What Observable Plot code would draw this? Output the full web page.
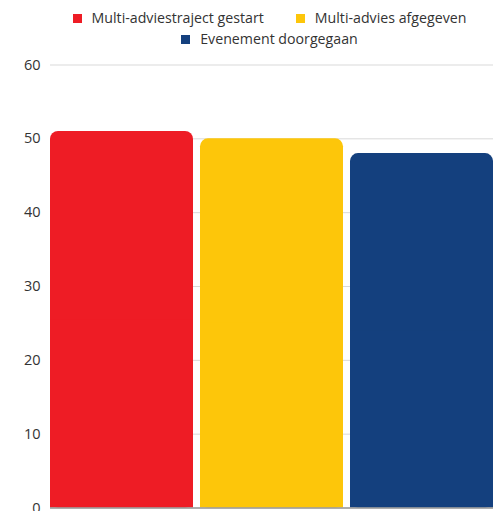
<!DOCTYPE html>
<html><head><meta charset="utf-8">
<script src="https://cdn.jsdelivr.net/npm/d3@7"></script>
<script src="https://cdn.jsdelivr.net/npm/@observablehq/plot@0.6"></script>
<style>
html,body{margin:0;padding:0;background:#fff;overflow:hidden;}
body{width:493px;font-family:"Open Sans",sans-serif;}
#legend{box-sizing:border-box;height:50px;padding:7px 0 0 46px;text-align:center;font-size:14.2px;color:#333;line-height:21px;}
.row{white-space:nowrap;}
.item{display:inline-block;margin:0 16px;}
.sw{display:inline-block;width:9px;height:9px;margin-right:10px;vertical-align:0px;}
</style></head>
<body>
<div id="legend"></div>
<div id="chart"></div>
<script>
const categories = ["Multi-adviestraject gestart", "Multi-advies afgegeven", "Evenement doorgegaan"];
const values = [51, 50, 48];
const colors = ["#EE1C25", "#FDC60A", "#14407E"];
const yTicks = [0, 10, 20, 30, 40, 50, 60];

const data = categories.map((c, i) => ({category: c, value: values[i]}));

// legend
const leg = document.getElementById("legend");
const rows = [[0, 1], [2]];
rows.forEach(r => {
  const row = document.createElement("div");
  row.className = "row";
  r.forEach(i => {
    const it = document.createElement("span");
    it.className = "item";
    it.innerHTML = `<span class="sw" style="background:${colors[i]}"></span>${categories[i]}`;
    row.appendChild(it);
  });
  leg.appendChild(row);
});

const chart = Plot.plot({
  width: 493,
  height: 478,
  marginTop: 14.5,
  marginBottom: 20.5,
  marginLeft: 50,
  marginRight: 0,
  style: {fontFamily: "Open Sans", fontSize: "14.5px", color: "#333", overflow: "visible"},
  x: {domain: categories, paddingInner: 0.05, paddingOuter: 0, axis: null},
  y: {domain: [0, 60], ticks: yTicks, label: null, tickSize: 0, tickPadding: 10},
  color: {domain: categories, range: colors},
  marks: [
    Plot.gridY(yTicks, {stroke: "#d9d9d9", strokeOpacity: 1, strokeWidth: 1}),
    // rounded bar
    Plot.barY(data, {x: "category", y: "value", fill: "category", rx: 8, ry: 8}),
    // square lower part hides the bottom rounded corners
    Plot.barY(data, {x: "category", y: d => d.value / 2, fill: "category"}),
    Plot.ruleY([0], {stroke: "#999", strokeWidth: 1.5})
  ]
});
document.getElementById("chart").appendChild(chart);
</script>
</body></html>
